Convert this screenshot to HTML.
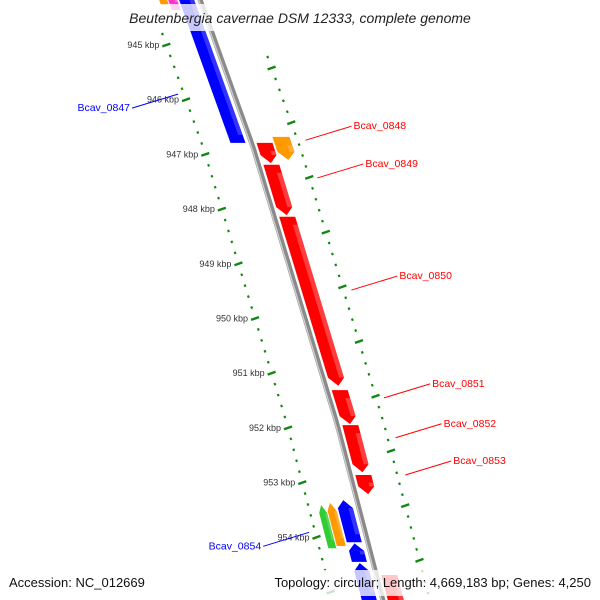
<!DOCTYPE html>
<html><head><meta charset="utf-8"><style>
html,body{margin:0;padding:0;background:#fff;overflow:hidden;}
svg{display:block;font-family:"Liberation Sans","DejaVu Sans",sans-serif;}
</style></head><body>
<svg id="map" width="600" height="600" viewBox="0 0 600 600" xmlns="http://www.w3.org/2000/svg">
<g id="inner-track"></g>
<g id="outer-track"></g>
<g id="backbone"></g>
<g id="genes"></g>
<g id="labels"></g>
<rect x="110" y="4" width="380" height="27" fill="#fff" opacity="0.78"/>
<text x="300" y="23" text-anchor="middle" font-size="14" font-style="italic" fill="#222">Beutenbergia cavernae DSM 12333, complete genome</text>
<rect x="0" y="570" width="600" height="26" fill="#fff" opacity="0.78"/>
<text x="9" y="587" font-size="13" fill="#111">Accession: NC_012669</text>
<text x="591" y="587" text-anchor="end" font-size="13" fill="#111">Topology: circular; Length: 4,669,183 bp; Genes: 4,250</text>
</svg>
<script>
const kbpTicks = [945,946,947,948,949,950,951,952,953,954];
const geneNames = ["g-orange-top","g-magenta-top","g-blue-0847","Bcav_0848","g-red-a","Bcav_0849","Bcav_0850","Bcav_0851","Bcav_0852","Bcav_0853","g-red-bottom","g-green","Bcav_0854","g-blue-b1","g-blue-b2","g-blue-b3"];
const geneStart = [943.6,943.6,943.6,946.68,946.79,947.19,948.14,951.31,951.95,952.86,954.69,953.41,953.37,953.32,954.11,954.47];
const geneEnd   = [944.27,944.36,946.79,947.10,947.16,948.11,951.23,951.93,952.81,953.21,955.5,954.20,954.16,954.09,954.45,955.15];
const geneStrand= [-1,-1,-1,1,1,1,1,1,1,1,1,-1,-1,-1,-1,-1];
const geneRow   = [-3,-2,-1,2,1,1,1,1,1,1,1,-3,-2,-1,-1,-1];
const geneColor = ["#ff9900","#ff33cc","#0000ff","#ff9900","#ff0000","#ff0000","#ff0000","#ff0000","#ff0000","#ff0000","#ff0000","#33cc33","#ff9900","#0000ff","#0000ff","#0000ff"];
const labelText = ["Bcav_0847","Bcav_0848","Bcav_0849","Bcav_0850","Bcav_0851","Bcav_0852","Bcav_0853","Bcav_0854"];
const labelKbp  = [945.99,946.32,947.01,949.06,951.03,951.76,952.44,954.0];
const labelSide = [-1,1,1,1,1,1,1,-1];

const NS="http://www.w3.org/2000/svg";
function yOf(k){return 45+(k-945)*54.7;}
const bbPts=[[-20,193],[147,253],[424,337],[620,388]];
function bx(y){
  for(let i=0;i<bbPts.length-1;i++){const a=bbPts[i],b=bbPts[i+1];
    if(y<=b[0]||i===bbPts.length-2){const t=(y-a[0])/(b[0]-a[0]);return a[1]+t*(b[1]-a[1]);}}
}
function mk(tag,attrs,parent){const e=document.createElementNS(NS,tag);for(const k in attrs)e.setAttribute(k,attrs[k]);parent.appendChild(e);return e;}
const rows={"1":[5,21],"2":[23,40],"-1":[-21,-6],"-2":[-32,-23],"-3":[-41,-33]};

const bb=document.getElementById('backbone');
let d="";for(let y=-20;y<=620;y+=10){d+=(y===-20?"M":"L")+bx(y).toFixed(1)+","+y;}
let p1=mk('path',{d:d,fill:'none',stroke:'#8a8a8a','stroke-width':5},bb);


let p2=mk('path',{d:d,fill:'none',stroke:'#d0d0d0','stroke-width':1.3,transform:'translate(-1.5,0)'},bb);



const inner=document.getElementById('inner-track'), outer=document.getElementById('outer-track');
for(let k=944;k<=956.5;k+=0.2){
  const kr=Math.round(k*10)/10, major=Math.abs(kr-Math.round(kr))<0.01;
  const y=yOf(kr); if(y<25||y>595) continue;
  const xi=bx(y)-50;
  const e=mk('line',{x1:xi-(major?4:1),y1:y+(major?1.4:0.4),x2:xi+(major?4:1),y2:y-(major?1.4:0.4),stroke:'#118811','stroke-width':2.4},inner);
  
  
  const yo=y+23, xo=bx(yo)+47;
  if(yo<595){
  const f=mk('line',{x1:xo-(major?4:1),y1:yo+(major?1.4:0.4),x2:xo+(major?4:1),y2:yo-(major?1.4:0.4),stroke:'#118811','stroke-width':2.4},outer);
  
  }
}
kbpTicks.forEach(k=>{
  const y=yOf(k);const t=mk('text',{x:bx(y)-57,y:y+3,'text-anchor':'end','font-size':9,fill:'#333'},inner);
  t.textContent=k+" kbp";
  
  
});

const gg=document.getElementById('genes');
function light(c){return c==="#0000ff"?"#5555ff":c==="#ff0000"?"#ff6666":c==="#ff9900"?"#ffbb55":c==="#33cc33"?"#77dd77":"#ff88dd";}
geneNames.forEach((n,i)=>{
  const y1=yOf(geneStart[i]),y2=yOf(geneEnd[i]);const r=rows[String(geneRow[i])];
  const t=Math.min(8,(y2-y1)*0.4);
  const X=(y,o)=>(bx(y)+o).toFixed(1);
  let pts;const m=(r[0]+r[1])/2;
  if(geneStrand[i]>0){
    pts=[[X(y1,r[0]),y1],[X(y1,r[1]),y1],[X(y2-t,r[1]),y2-t],[X(y2,m),y2],[X(y2-t,r[0]),y2-t]];}
  else{
    pts=[[X(y1+t,r[0]),y1+t],[X(y1,m),y1],[X(y1+t,r[1]),y1+t],[X(y2,r[1]),y2],[X(y2,r[0]),y2]];}
  const g=mk('polygon',{points:pts.map(p=>p.join(',')).join(' '),fill:geneColor[i]},gg);
  
  
  const w=(r[1]-r[0])*0.3, a=r[1]-w;
  const s=mk('polygon',{points:[[X(y1+t,a),y1+t],[X(y1+t,r[1]),y1+t],[X(y2-t,r[1]),y2-t],[X(y2-t,a),y2-t]].map(p=>p.join(',')).join(' '),fill:light(geneColor[i]),opacity:0.6},gg);
  
  
});

const lg=document.getElementById('labels');
labelText.forEach((txt,i)=>{
  const y=yOf(labelKbp[i]);const side=labelSide[i];const col=side>0?'#ff0000':'#0000ff';
  let x0,y0,x1,y1;
  if(side>0){y0=y+23;x0=bx(y0)+55;x1=x0+46;y1=y0-14;}
  else{y0=y-5;x0=bx(y0)-56;x1=x0-46;y1=y0+14;}
  const l=mk('line',{x1:x0,y1:y0,x2:x1,y2:y1,stroke:col,'stroke-width':1},lg);
  
  
  const t=mk('text',{x:side>0?x1+2:x1-2,y:y1+3,'text-anchor':side>0?'start':'end','font-size':10.5,fill:col},lg);
  t.textContent=txt;
  
  
});
</script>
</body></html>
